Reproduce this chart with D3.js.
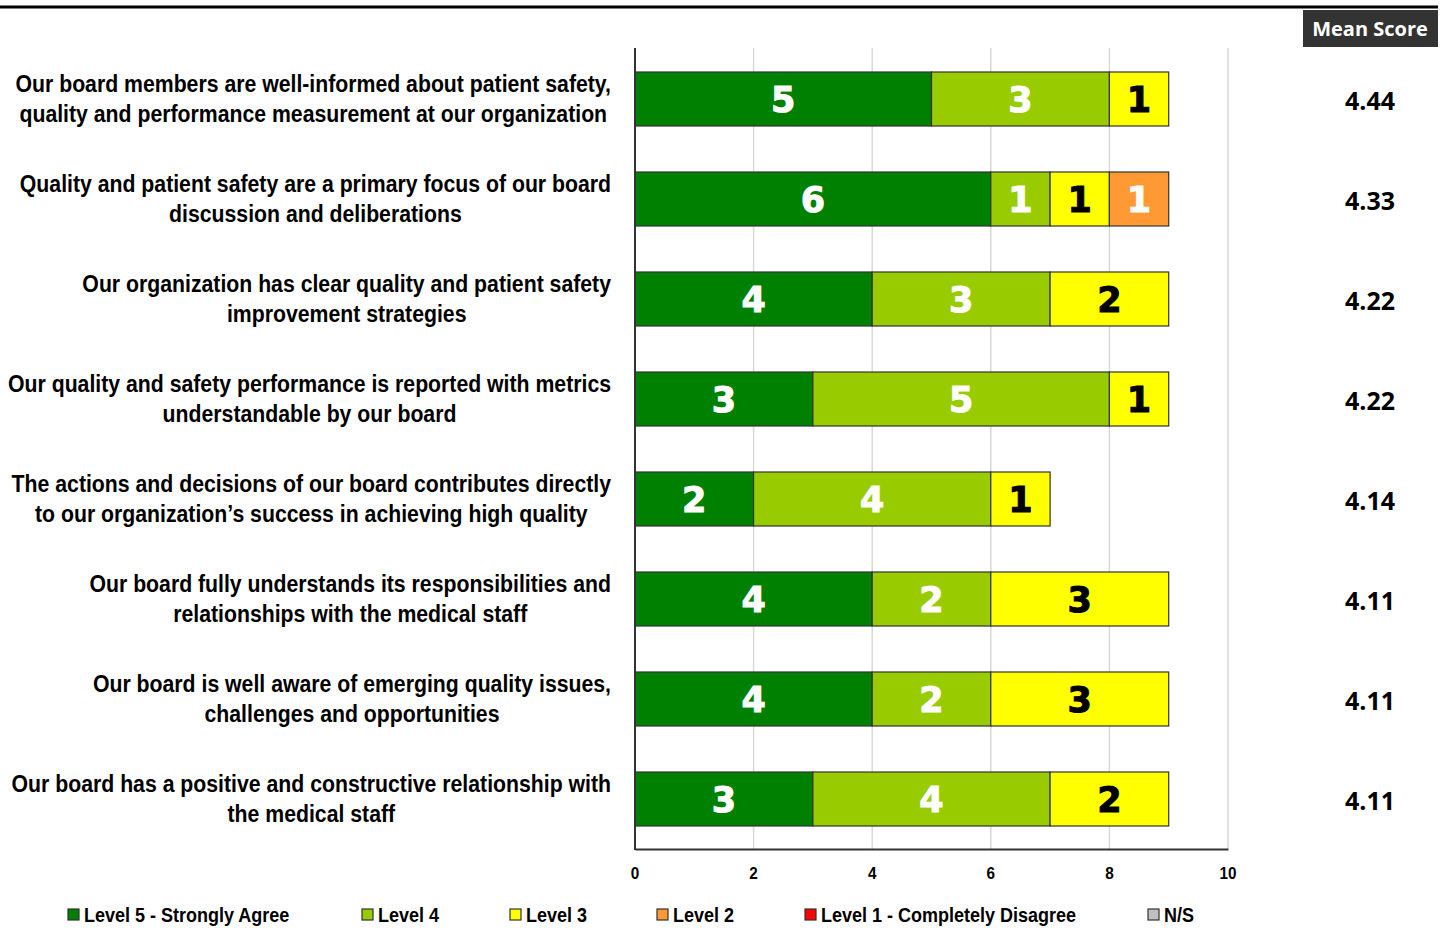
<!DOCTYPE html>
<html><head><meta charset="utf-8">
<script src="https://cdn.jsdelivr.net/npm/d3@7"></script>
<style>body{margin:0;background:#fff}svg{display:block}</style>
</head><body>
<script>
const questions = [
  ["Our board members are well-informed about patient safety,", "quality and performance measurement at our organization"],
  ["Quality and patient safety are a primary focus of our board", "discussion and deliberations"],
  ["Our organization has clear quality and patient safety", "improvement strategies"],
  ["Our quality and safety performance is reported with metrics", "understandable by our board"],
  ["The actions and decisions of our board contributes directly", "to our organization\u2019s success in achieving high quality"],
  ["Our board fully understands its responsibilities and", "relationships with the medical staff"],
  ["Our board is well aware of emerging quality issues,", "challenges and opportunities"],
  ["Our board has a positive and constructive relationship with", "the medical staff"]
];
const seriesNames = ["Level 5 - Strongly Agree","Level 4","Level 3","Level 2","Level 1 - Completely Disagree","N/S"];
const seriesColors = ["#008000","#99CC00","#FFFF00","#FF9933","#FF0000","#C0C0C0"];
const level5 = [5,6,4,3,2,4,4,3];
const level4 = [3,1,3,5,4,2,2,4];
const level3 = [1,1,2,1,1,3,3,2];
const level2 = [0,1,0,0,0,0,0,0];
const level1 = [0,0,0,0,0,0,0,0];
const ns     = [0,0,0,0,0,0,0,0];
const meanScores = ["4.44","4.33","4.22","4.22","4.14","4.11","4.11","4.11"];
const xTicks = [0,2,4,6,8,10];

const W=1444,H=933;
const svg=d3.select("body").append("svg").attr("width",W).attr("height",H);
const sansFam="'Liberation Sans',Arial,sans-serif";
const NARROW=0.9;
const LABEL_NARROW=0.885;

// condensed text helper: anchor at (ax, ay)
function narrowText(parent, ax, ay, anchor, size, str, sx){
  const s=sx||NARROW;
  const g=parent.append("g").attr("transform",`translate(${ax},${ay}) scale(${s},1)`);
  return g.append("text").attr("x",0).attr("y",0).attr("text-anchor",anchor)
    .attr("dominant-baseline","central").attr("font-family",sansFam).attr("font-weight","bold")
    .attr("font-size",size).attr("fill","#000").text(str);
}

svg.append("line").attr("x1",0).attr("x2",1438).attr("y1",7).attr("y2",7).attr("stroke","#000").attr("stroke-width",3);

const x=d3.scaleLinear().domain([0,10]).range([635,1228]);
const y=d3.scaleBand().domain(d3.range(questions.length)).range([49,849]).paddingInner(0.46).paddingOuter(0.23);

// gridlines
svg.append("g").selectAll("line").data(xTicks.slice(1)).join("line")
  .attr("x1",d=>x(d)).attr("x2",d=>x(d)).attr("y1",48).attr("y2",849)
  .attr("stroke","#d9d9d9").attr("stroke-width",1.5);

const seriesData=[level5,level4,level3,level2,level1,ns];
const rows=questions.map((q,i)=>{const o={i};seriesNames.forEach((s,k)=>o[s]=seriesData[k][i]);return o;});
const stacked=d3.stack().keys(seriesNames)(rows);

const g=svg.append("g");
stacked.forEach((layer,k)=>{
  layer.forEach((d,i)=>{
    const v=d[1]-d[0];
    if(v<=0)return;
    g.append("rect").attr("x",x(d[0])).attr("y",y(i)).attr("width",x(d[1])-x(d[0])).attr("height",y.bandwidth())
      .attr("fill",seriesColors[k]).attr("stroke","#333").attr("stroke-width",1.2);
    g.append("text").attr("x",(x(d[0])+x(d[1]))/2).attr("y",y(i)+y.bandwidth()/2+1)
      .attr("text-anchor","middle").attr("dominant-baseline","central")
      .attr("font-family","'DejaVu Sans',sans-serif").attr("font-weight","bold").attr("font-size",35)
      .attr("stroke",k===2?"#000":"#fff").attr("stroke-width",1)
      .attr("fill",k===2?"#000":"#fff").text(v);
  });
});

// axes
const xAxis=svg.append("g").attr("transform","translate(0,849)").call(d3.axisBottom(x).tickValues(xTicks).tickSize(0).tickFormat(""));
xAxis.select(".domain").attr("stroke","#333").attr("stroke-width",2);
xTicks.forEach(t=>narrowText(svg,x(t),873,"middle",17,t));
svg.append("line").attr("x1",635).attr("x2",635).attr("y1",48).attr("y2",850).attr("stroke","#333").attr("stroke-width",2);

// category labels
questions.forEach((q,i)=>{
  const cy=y(i)+y.bandwidth()/2;
  const texts=q.map((line,j)=>narrowText(svg,0,cy-15+j*30,"middle",24,line,LABEL_NARROW));
  let mw=0;texts.forEach(t=>mw=Math.max(mw,t.node().getComputedTextLength()*LABEL_NARROW));
  texts.forEach((t,j)=>d3.select(t.node().parentNode).attr("transform",`translate(${611-mw/2},${cy-15+j*30}) scale(${LABEL_NARROW},1)`));
});

// mean score header
svg.append("rect").attr("x",1303).attr("y",10).attr("width",135).attr("height",37).attr("fill","#333");
svg.append("text").attr("x",1370).attr("y",28).attr("text-anchor","middle").attr("dominant-baseline","central")
  .attr("font-family","'Open Sans',sans-serif").attr("font-weight","bold").attr("font-size",20).attr("fill","#fff").text("Mean Score");
meanScores.forEach((m,i)=>{
  svg.append("text").attr("x",1370).attr("y",y(i)+y.bandwidth()/2+1).attr("text-anchor","middle").attr("dominant-baseline","central")
    .attr("font-family","'Open Sans',sans-serif").attr("font-weight","bold").attr("font-size",25).attr("fill","#000").text(m);
});

// legend
const legendX=[68,362,510,657,805,1148];
seriesNames.forEach((s,k)=>{
  svg.append("rect").attr("x",legendX[k]).attr("y",909).attr("width",11).attr("height",11)
    .attr("fill",seriesColors[k]).attr("stroke","#333").attr("stroke-width",1.2);
  narrowText(svg,legendX[k]+16,915,"start",20,s);
});
</script>
</body></html>
